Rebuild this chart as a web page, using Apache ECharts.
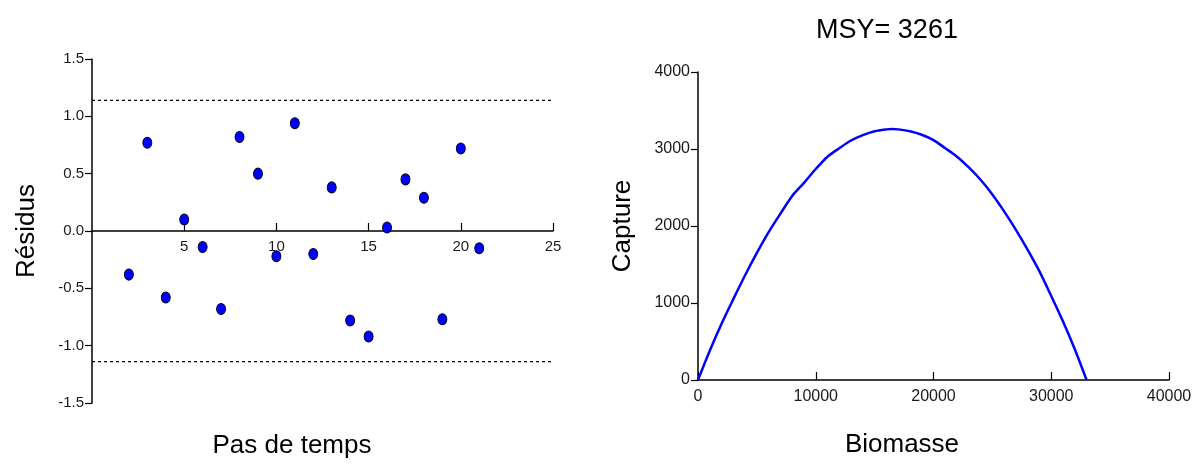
<!DOCTYPE html>
<html>
<head>
<meta charset="utf-8">
<script src="https://cdn.jsdelivr.net/npm/echarts@6/dist/echarts.min.js"></script>
<style>
  html, body { margin: 0; padding: 0; background: #ffffff; }
  #chart { width: 1200px; height: 464px; }
</style>
</head>
<body>
<div id="chart"></div>
<script>
// Residuals of the fitted model per time step
const timeSteps = [2, 3, 4, 5, 6, 7, 8, 9, 10, 11, 12, 13, 14, 15, 16, 17, 18, 19, 20, 21];
const residuals = [-0.38, 0.77, -0.58, 0.10, -0.14, -0.68, 0.82, 0.50, -0.22, 0.94,
                   -0.20, 0.38, -0.78, -0.92, 0.03, 0.45, 0.29, -0.77, 0.72, -0.15];

// Dotted confidence limits drawn across the residual panel
const limitSteps = [0, 25];
const upperLimit = [1.14, 1.14];
const lowerLimit = [-1.14, -1.14];

// Equilibrium catch as a function of biomass
const biomass = [0, 1000, 2000, 3000, 4000, 5000, 6000, 7000, 8000, 9000, 10000,
                 11000, 12000, 13000, 14000, 15000, 16000, 16500, 17000, 18000, 19000,
                 20000, 21000, 22000, 23000, 24000, 25000, 26000, 27000, 28000, 29000,
                 30000, 31000, 32000, 33000];
const capture = [0, 380, 730, 1050, 1360, 1650, 1920, 2160, 2390, 2560, 2740,
                 2900, 3010, 3110, 3180, 3230, 3255, 3261, 3255, 3230, 3185,
                 3115, 3010, 2900, 2760, 2600, 2410, 2190, 1950, 1690, 1410,
                 1090, 760, 400, 0];
const msyValue = 3261;

const FONT = "'Liberation Sans', Arial, sans-serif";
const INK = '#1a1a1a';

// Residual panel geometry: the time axis crosses the value axis at zero
const RES_TOP = 59, RES_HEIGHT = 344, RES_MIN = -1.5, RES_MAX = 1.5;
const zeroShift = -Math.round(RES_HEIGHT * (0 - RES_MIN) / (RES_MAX - RES_MIN));

const zip = (xs, ys) => xs.map((x, i) => [x, ys[i]]);

const chart = echarts.init(document.getElementById('chart'), null, { renderer: 'canvas' });

const axisLineStyle = { lineStyle: { color: '#000', width: 1.5 } };
const labelStyle = { color: INK, fontFamily: FONT, fontSize: 15 };

chart.setOption({
  animation: false,
  backgroundColor: '#ffffff',
  title: {
    text: 'MSY= ' + msyValue,
    left: 882,
    top: 12,
    textAlign: 'center',
    textStyle: { color: '#000', fontFamily: FONT, fontSize: 27, fontWeight: 'normal' }
  },
  grid: [
    { left: 92, top: RES_TOP, width: 461, height: RES_HEIGHT },
    { left: 698, top: 72, width: 471, height: 308 }
  ],
  xAxis: [
    {
      gridIndex: 0, type: 'value', min: 0, max: 25, interval: 5,
      position: 'bottom', offset: zeroShift,
      axisLine: { show: true, onZero: false, lineStyle: { color: '#000', width: 1.5 } },
      axisTick: { show: true, inside: true, length: 8, lineStyle: { color: '#000', width: 1.2 } },
      axisLabel: Object.assign({ margin: 8, showMinLabel: false }, labelStyle),
      splitLine: { show: false }
    },
    {
      gridIndex: 1, type: 'value', min: 0, max: 40000, interval: 10000,
      axisLine: { show: true, onZero: false, lineStyle: { color: '#000', width: 1.5 } },
      axisTick: { show: true, inside: true, length: 8, lineStyle: { color: '#000', width: 1.2 } },
      axisLabel: Object.assign({ margin: 9, formatter: v => String(v) }, labelStyle, { fontSize: 16 }),
      splitLine: { show: false }
    }
  ],
  yAxis: [
    {
      gridIndex: 0, type: 'value', min: RES_MIN, max: RES_MAX, interval: 0.5,
      name: 'Résidus', nameLocation: 'middle', nameGap: 52,
      nameTextStyle: { color: '#000', fontFamily: FONT, fontSize: 26 },
      axisLine: Object.assign({ show: true, onZero: false }, axisLineStyle),
      axisTick: { show: true, inside: false, length: 7, lineStyle: { color: '#000', width: 1.2 } },
      axisLabel: Object.assign({ margin: 8, formatter: v => v.toFixed(1) }, labelStyle),
      splitLine: { show: false }
    },
    {
      gridIndex: 1, type: 'value', min: 0, max: 4000, interval: 1000,
      name: 'Capture', nameLocation: 'middle', nameGap: 62,
      nameTextStyle: { color: '#000', fontFamily: FONT, fontSize: 26 },
      axisLine: Object.assign({ show: true, onZero: false }, axisLineStyle),
      axisTick: { show: true, inside: false, length: 7, lineStyle: { color: '#000', width: 1.2 } },
      axisLabel: Object.assign({ margin: 8, formatter: v => String(v) }, labelStyle, { fontSize: 16 }),
      splitLine: { show: false }
    }
  ],
  graphic: [
    {
      type: 'text', x: 292, y: 446,
      style: { text: 'Pas de temps', fill: '#000', font: '26px ' + FONT, align: 'center', verticalAlign: 'middle' }
    },
    {
      type: 'text', x: 902, y: 445,
      style: { text: 'Biomasse', fill: '#000', font: '26px ' + FONT, align: 'center', verticalAlign: 'middle' }
    }
  ],
  series: [
    {
      type: 'line', xAxisIndex: 0, yAxisIndex: 0, silent: true, symbol: 'none',
      data: zip(limitSteps, upperLimit),
      lineStyle: { color: '#000', width: 1.2, type: [3, 3] }
    },
    {
      type: 'line', xAxisIndex: 0, yAxisIndex: 0, silent: true, symbol: 'none',
      data: zip(limitSteps, lowerLimit),
      lineStyle: { color: '#000', width: 1.2, type: [3, 3] }
    },
    {
      type: 'scatter', xAxisIndex: 0, yAxisIndex: 0, symbol: 'circle', symbolSize: [9, 11],
      data: zip(timeSteps, residuals),
      itemStyle: { color: '#0000ff', borderColor: '#000022', borderWidth: 1, opacity: 1 }
    },
    {
      type: 'line', xAxisIndex: 1, yAxisIndex: 1, symbol: 'none', smooth: 0.3,
      data: zip(biomass, capture),
      lineStyle: { color: '#0000ff', width: 2.5 }
    }
  ]
});
</script>
</body>
</html>
